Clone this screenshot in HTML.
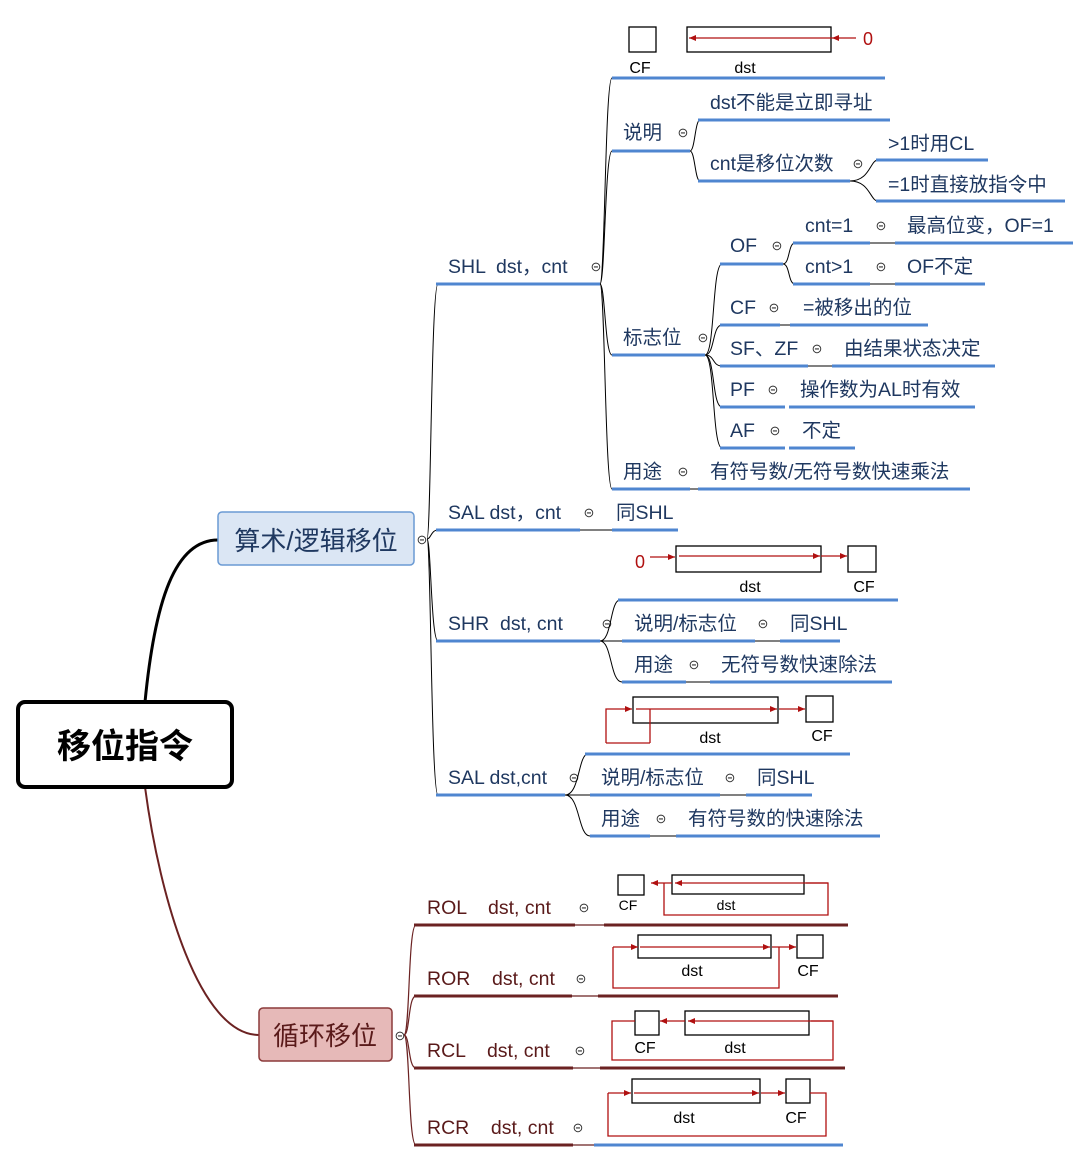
<!DOCTYPE html>
<html><head><meta charset="utf-8"><style>
html,body{margin:0;padding:0;background:#fff;}
svg{display:block;}
text{font-family:"Liberation Sans","Noto Sans CJK SC",sans-serif;white-space:pre;}
.t{font-size:19.5px;fill:#1f3860;}
.r{font-size:19.5px;fill:#5a1a1a;}
.s{font-size:16px;fill:#000;}
.ss{font-size:14px;fill:#000;}
.b{stroke:#4f86d0;stroke-width:3;fill:none;}
.d{stroke:#6b2222;stroke-width:3;fill:none;}
.k{stroke:#000;stroke-width:1;fill:none;}
.kr{stroke:#6b2222;stroke-width:1.2;fill:none;}
.m{font-size:13px;fill:#333;}
.bx{fill:#fff;stroke:#000;stroke-width:1.3;}
.rl{stroke:#b01010;stroke-width:1.3;fill:none;}
</style></head><body>
<svg width="1091" height="1162" viewBox="0 0 1091 1162" xmlns="http://www.w3.org/2000/svg" xml:space="preserve">
<defs>
<marker id="a" markerWidth="8" markerHeight="8" refX="7" refY="4" orient="auto" markerUnits="userSpaceOnUse"><path d="M0,1 L7,4 L0,7z" fill="#b01010"/></marker>
</defs>
<path d="M145,702 C155,600 175,540 218,540" stroke="#000" stroke-width="3" fill="none"/>
<path d="M145,787 C160,900 200,1035 259,1035" stroke="#6b2222" stroke-width="2" fill="none"/>
<rect x="18" y="702" width="214" height="85" rx="7" fill="#fff" stroke="#000" stroke-width="4"/>
<text x="125" y="758" text-anchor="middle" style="font-size:34px;font-weight:bold;fill:#000">移位指令</text>
<rect x="218" y="512" width="196" height="53" rx="4" fill="#dbe6f4" stroke="#6a9ad4" stroke-width="1.5"/>
<text x="316" y="550" text-anchor="middle" style="font-size:26px;fill:#1f3860">算术/逻辑移位</text>
<text x="422" y="544" text-anchor="middle" class="m">⊝</text>
<rect x="259" y="1008" width="133" height="53" rx="4" fill="#e6b9b8" stroke="#8b3a3a" stroke-width="1.5"/>
<text x="325" y="1045" text-anchor="middle" style="font-size:26px;fill:#5a1a1a">循环移位</text>
<text x="400" y="1040" text-anchor="middle" class="m">⊝</text>

<path class="k" d="M427,539 C431,539 431,284 438,284"/>
<path class="k" d="M427,539 C431,539 431,530 438,530"/>
<path class="k" d="M427,539 C431,539 431,641 438,641"/>
<path class="k" d="M427,539 C431,539 431,795 438,795"/>

<text x="448" y="273" class="t">SHL  dst，cnt</text>
<line class="b" x1="436" y1="284" x2="600" y2="284"/>
<text x="596" y="271" text-anchor="middle" class="m">⊝</text>
<path class="k" d="M600,284 C605,284 605,78 612,78"/>
<path class="k" d="M600,284 C605,284 605,151 612,151"/>
<path class="k" d="M600,284 C605,284 605,355 612,355"/>
<path class="k" d="M600,284 C605,284 605,489 612,489"/>
<rect class="bx" x="629" y="27" width="27" height="25"/>
<rect class="bx" x="687" y="27" width="144" height="25"/>
<line class="rl" x1="856" y1="38" x2="832" y2="38" marker-end="url(#a)"/>
<line class="rl" x1="832" y1="38" x2="689" y2="38" marker-end="url(#a)"/>
<text x="863" y="45" style="font-size:18px;fill:#b01010">0</text>
<text x="640" y="73" text-anchor="middle" class="s">CF</text>
<text x="745" y="73" text-anchor="middle" class="s">dst</text>
<line class="b" x1="612" y1="78" x2="885" y2="78"/>
<text x="623" y="139" class="t">说明</text>
<text x="683" y="137" text-anchor="middle" class="m">⊝</text>
<line class="b" x1="612" y1="151" x2="690" y2="151"/>
<path class="k" d="M690,151 C695,151 695,120 700,120"/>
<path class="k" d="M690,151 C695,151 695,181 700,181"/>
<text x="710" y="109" class="t">dst不能是立即寻址</text>
<line class="b" x1="698" y1="120" x2="890" y2="120"/>
<text x="710" y="170" class="t">cnt是移位次数</text>
<text x="858" y="168" text-anchor="middle" class="m">⊝</text>
<line class="b" x1="698" y1="181" x2="850" y2="181"/>
<path class="k" d="M850,181 C870,181 870,160 878,160"/>
<path class="k" d="M850,181 C870,181 870,201 878,201"/>
<text x="888" y="150" class="t">&gt;1时用CL</text>
<line class="b" x1="876" y1="160" x2="988" y2="160"/>
<text x="888" y="191" class="t">=1时直接放指令中</text>
<line class="b" x1="876" y1="201" x2="1065" y2="201"/>
<text x="623" y="344" class="t">标志位</text>
<text x="703" y="342" text-anchor="middle" class="m">⊝</text>
<line class="b" x1="612" y1="355" x2="705" y2="355"/>
<path class="k" d="M705,355 C715,355 712,264 722,264"/>
<path class="k" d="M705,355 C715,355 712,325 722,325"/>
<path class="k" d="M705,355 C715,355 712,366 722,366"/>
<path class="k" d="M705,355 C715,355 712,407 722,407"/>
<path class="k" d="M705,355 C715,355 712,448 722,448"/>
<text x="730" y="252" class="t">OF</text>
<text x="777" y="250" text-anchor="middle" class="m">⊝</text>
<line class="b" x1="720" y1="264" x2="783" y2="264"/>
<path class="k" d="M783,264 C790,264 788,243 795,243"/>
<path class="k" d="M783,264 C790,264 788,284 795,284"/>
<text x="805" y="232" class="t">cnt=1</text>
<text x="881" y="230" text-anchor="middle" class="m">⊝</text>
<line class="b" x1="793" y1="243" x2="870" y2="243"/>
<line class="k" x1="870" y1="243" x2="895" y2="243"/>
<text x="907" y="232" class="t">最高位变，OF=1</text>
<line class="b" x1="895" y1="243" x2="1073" y2="243"/>
<text x="805" y="273" class="t">cnt&gt;1</text>
<text x="881" y="271" text-anchor="middle" class="m">⊝</text>
<line class="b" x1="793" y1="284" x2="870" y2="284"/>
<line class="k" x1="870" y1="284" x2="895" y2="284"/>
<text x="907" y="273" class="t">OF不定</text>
<line class="b" x1="895" y1="284" x2="985" y2="284"/>

<text x="730" y="314" class="t">CF</text>
<text x="774" y="312" text-anchor="middle" class="m">⊝</text>
<line class="b" x1="720" y1="325" x2="780" y2="325"/>
<line class="k" x1="780" y1="325" x2="790" y2="325"/>
<text x="803" y="314" class="t">=被移出的位</text>
<line class="b" x1="790" y1="325" x2="928" y2="325"/>

<text x="730" y="355" class="t">SF、ZF</text>
<text x="817" y="353" text-anchor="middle" class="m">⊝</text>
<line class="b" x1="720" y1="366" x2="808" y2="366"/>
<line class="k" x1="808" y1="366" x2="832" y2="366"/>
<text x="844" y="355" class="t">由结果状态决定</text>
<line class="b" x1="832" y1="366" x2="995" y2="366"/>

<text x="730" y="396" class="t">PF</text>
<text x="773" y="394" text-anchor="middle" class="m">⊝</text>
<line class="b" x1="720" y1="407" x2="785" y2="407"/>
<text x="800" y="396" class="t">操作数为AL时有效</text>
<line class="b" x1="789" y1="407" x2="975" y2="407"/>

<text x="730" y="437" class="t">AF</text>
<text x="775" y="435" text-anchor="middle" class="m">⊝</text>
<line class="b" x1="720" y1="448" x2="785" y2="448"/>
<text x="802" y="437" class="t">不定</text>
<line class="b" x1="789" y1="448" x2="855" y2="448"/>
<text x="623" y="478" class="t">用途</text>
<text x="683" y="476" text-anchor="middle" class="m">⊝</text>
<line class="b" x1="612" y1="489" x2="690" y2="489"/>
<line class="k" x1="690" y1="489" x2="698" y2="489"/>
<text x="710" y="478" class="t">有符号数/无符号数快速乘法</text>
<line class="b" x1="698" y1="489" x2="970" y2="489"/>

<text x="448" y="519" class="t">SAL dst，cnt</text>
<text x="589" y="517" text-anchor="middle" class="m">⊝</text>
<line class="b" x1="436" y1="530" x2="580" y2="530"/>
<line class="k" x1="580" y1="530" x2="612" y2="530"/>
<text x="616" y="519" class="t">同SHL</text>
<line class="b" x1="612" y1="530" x2="678" y2="530"/>

<text x="448" y="630" class="t">SHR  dst, cnt</text>
<text x="607" y="628" text-anchor="middle" class="m">⊝</text>
<line class="b" x1="436" y1="641" x2="600" y2="641"/>
<path class="k" d="M600,641 C612,641 610,600 620,600"/>
<path class="k" d="M600,641 L622,641"/>
<path class="k" d="M600,641 C612,641 610,682 622,682"/>
<text x="640" y="568" text-anchor="middle" style="font-size:18px;fill:#b01010">0</text>
<line class="rl" x1="650" y1="557" x2="675" y2="557" marker-end="url(#a)"/>
<rect class="bx" x="676" y="546" width="145" height="26"/>
<line class="rl" x1="679" y1="556" x2="820" y2="556" marker-end="url(#a)"/>
<line class="rl" x1="821" y1="556" x2="847" y2="556" marker-end="url(#a)"/>
<rect class="bx" x="848" y="546" width="28" height="26"/>
<text x="750" y="592" text-anchor="middle" class="s">dst</text>
<text x="864" y="592" text-anchor="middle" class="s">CF</text>
<line class="b" x1="618" y1="600" x2="898" y2="600"/>
<text x="634" y="630" class="t">说明/标志位</text>
<text x="763" y="628" text-anchor="middle" class="m">⊝</text>
<line class="b" x1="622" y1="641" x2="755" y2="641"/>
<line class="k" x1="755" y1="641" x2="780" y2="641"/>
<text x="790" y="630" class="t">同SHL</text>
<line class="b" x1="780" y1="641" x2="840" y2="641"/>
<text x="634" y="671" class="t">用途</text>
<text x="694" y="669" text-anchor="middle" class="m">⊝</text>
<line class="b" x1="622" y1="682" x2="686" y2="682"/>
<line class="k" x1="686" y1="682" x2="710" y2="682"/>
<text x="721" y="671" class="t">无符号数快速除法</text>
<line class="b" x1="710" y1="682" x2="892" y2="682"/>

<text x="448" y="784" class="t">SAL dst,cnt</text>
<text x="574" y="782" text-anchor="middle" class="m">⊝</text>
<line class="b" x1="436" y1="795" x2="565" y2="795"/>
<path class="k" d="M565,795 C580,795 578,754 588,754"/>
<path class="k" d="M565,795 L590,795"/>
<path class="k" d="M565,795 C580,795 578,836 590,836"/>
<rect class="bx" x="633" y="697" width="145" height="26"/>
<path class="rl" d="M606,743 L606,709 L632,709" marker-end="url(#a)"/>
<line x1="606" y1="743" x2="650" y2="743" class="rl"/>
<line x1="650" y1="743" x2="650" y2="709" class="rl"/>
<line class="rl" x1="636" y1="709" x2="777" y2="709" marker-end="url(#a)"/>
<line class="rl" x1="779" y1="709" x2="805" y2="709" marker-end="url(#a)"/>
<rect class="bx" x="806" y="696" width="27" height="26"/>
<text x="710" y="743" text-anchor="middle" class="s">dst</text>
<text x="822" y="741" text-anchor="middle" class="s">CF</text>
<line class="b" x1="585" y1="754" x2="850" y2="754"/>
<text x="601" y="784" class="t">说明/标志位</text>
<text x="730" y="782" text-anchor="middle" class="m">⊝</text>
<line class="b" x1="590" y1="795" x2="720" y2="795"/>
<line class="k" x1="720" y1="795" x2="746" y2="795"/>
<text x="757" y="784" class="t">同SHL</text>
<line class="b" x1="746" y1="795" x2="812" y2="795"/>
<text x="601" y="825" class="t">用途</text>
<text x="661" y="823" text-anchor="middle" class="m">⊝</text>
<line class="b" x1="590" y1="836" x2="650" y2="836"/>
<line class="k" x1="650" y1="836" x2="676" y2="836"/>
<text x="688" y="825" class="t">有符号数的快速除法</text>
<line class="b" x1="676" y1="836" x2="880" y2="836"/>

<path class="kr" d="M404,1035 C410,1035 408,925 416,925"/>
<path class="kr" d="M404,1035 C410,1035 408,996 416,996"/>
<path class="kr" d="M404,1035 C410,1035 408,1068 416,1068"/>
<path class="kr" d="M404,1035 C410,1035 408,1145 416,1145"/>

<text x="427" y="914" class="r">ROL    dst, cnt</text>
<text x="584" y="912" text-anchor="middle" class="m">⊝</text>
<line class="d" x1="414" y1="925" x2="575" y2="925"/>
<line class="kr" x1="575" y1="925" x2="604" y2="925"/>
<line class="d" x1="604" y1="925" x2="848" y2="925"/>
<rect class="bx" x="618" y="875" width="26" height="20"/>
<rect class="bx" x="672" y="875" width="132" height="19"/>
<path class="rl" d="M664,883 L664,915 L828,915 L828,883 L806,883"/>
<line class="rl" x1="828" y1="883" x2="675" y2="883" marker-end="url(#a)"/>
<line class="rl" x1="672" y1="883" x2="651" y2="883" marker-end="url(#a)"/>
<text x="628" y="910" text-anchor="middle" class="ss">CF</text>
<text x="726" y="910" text-anchor="middle" class="ss">dst</text>

<text x="427" y="985" class="r">ROR    dst, cnt</text>
<text x="581" y="983" text-anchor="middle" class="m">⊝</text>
<line class="d" x1="414" y1="996" x2="572" y2="996"/>
<line class="kr" x1="572" y1="996" x2="598" y2="996"/>
<line class="d" x1="598" y1="996" x2="838" y2="996"/>
<rect class="bx" x="638" y="935" width="133" height="23"/>
<rect class="bx" x="797" y="935" width="26" height="23"/>
<path class="rl" d="M779,947 L779,988 L613,988 L613,947"/>
<line class="rl" x1="613" y1="947" x2="638" y2="947" marker-end="url(#a)"/>
<line class="rl" x1="640" y1="947" x2="770" y2="947" marker-end="url(#a)"/>
<line class="rl" x1="772" y1="947" x2="796" y2="947" marker-end="url(#a)"/>
<text x="692" y="976" text-anchor="middle" class="s">dst</text>
<text x="808" y="976" text-anchor="middle" class="s">CF</text>

<text x="427" y="1057" class="r">RCL    dst, cnt</text>
<text x="580" y="1055" text-anchor="middle" class="m">⊝</text>
<line class="d" x1="414" y1="1068" x2="573" y2="1068"/>
<line class="kr" x1="573" y1="1068" x2="600" y2="1068"/>
<line class="d" x1="600" y1="1068" x2="845" y2="1068"/>
<rect class="bx" x="635" y="1011" width="24" height="24"/>
<rect class="bx" x="685" y="1011" width="124" height="24"/>
<path class="rl" d="M635,1021 L612,1021 L612,1060 L833,1060 L833,1021 L811,1021"/>
<line class="rl" x1="833" y1="1021" x2="688" y2="1021" marker-end="url(#a)"/>
<line class="rl" x1="685" y1="1021" x2="660" y2="1021" marker-end="url(#a)"/>
<text x="645" y="1053" text-anchor="middle" class="s">CF</text>
<text x="735" y="1053" text-anchor="middle" class="s">dst</text>

<text x="427" y="1134" class="r">RCR    dst, cnt</text>
<text x="578" y="1132" text-anchor="middle" class="m">⊝</text>
<line class="d" x1="414" y1="1145" x2="573" y2="1145"/>
<line class="kr" x1="573" y1="1145" x2="594" y2="1145"/>
<line class="b" x1="594" y1="1145" x2="843" y2="1145"/>
<rect class="bx" x="632" y="1079" width="128" height="24"/>
<rect class="bx" x="786" y="1079" width="24" height="24"/>
<path class="rl" d="M810,1093 L826,1093 L826,1136 L608,1136 L608,1093"/>
<line class="rl" x1="608" y1="1093" x2="631" y2="1093" marker-end="url(#a)"/>
<line class="rl" x1="634" y1="1093" x2="759" y2="1093" marker-end="url(#a)"/>
<line class="rl" x1="761" y1="1093" x2="785" y2="1093" marker-end="url(#a)"/>
<text x="684" y="1123" text-anchor="middle" class="s">dst</text>
<text x="796" y="1123" text-anchor="middle" class="s">CF</text>
</svg>
</body></html>
